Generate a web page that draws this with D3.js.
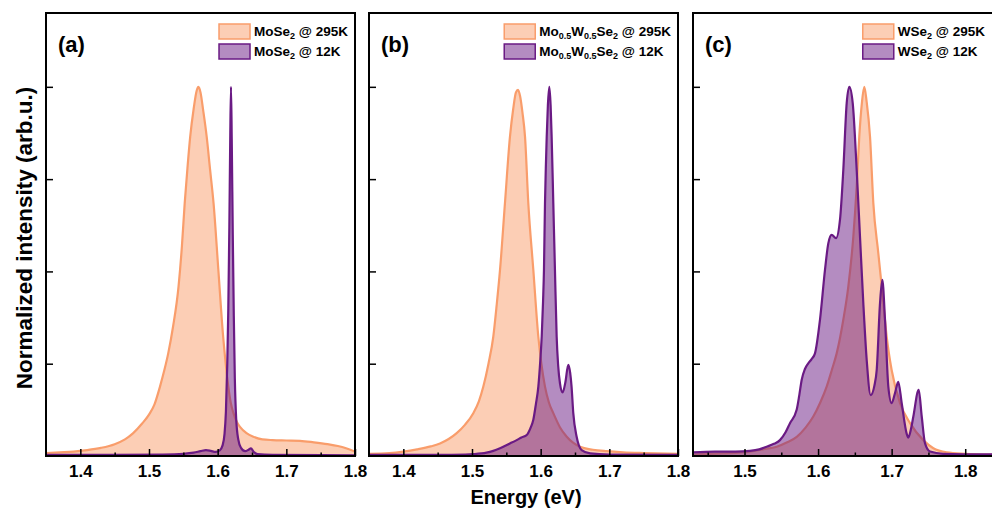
<!DOCTYPE html>
<html>
<head>
<meta charset="utf-8">
<script src="https://cdn.jsdelivr.net/npm/d3@7"></script>
<style>
  html, body { margin: 0; padding: 0; background: #fff; }
  svg { display: block; }
</style>
</head>
<body>
<svg id="chart" width="992" height="514"></svg>
<script>
// ---------------- DATA ----------------
const panelLabels = ["(a)", "(b)", "(c)"];
const energyDomains = [[1.35, 1.8], [1.35, 1.8], [1.43, 1.85]];
const majorTicks = [[1.4, 1.5, 1.6, 1.7, 1.8], [1.4, 1.5, 1.6, 1.7, 1.8], [1.5, 1.6, 1.7, 1.8]];
const minorTicks = [[1.45, 1.55, 1.65, 1.75], [1.45, 1.55, 1.65, 1.75], [1.45, 1.55, 1.65, 1.75]];
const yTicks = [0.25, 0.5, 0.75, 1.0];

// legend labels as [text, isSubscript] segments
const legendRoom = [
  [["MoSe", 0], ["2", 1], [" @ 295K", 0]],
  [["Mo", 0], ["0.5", 1], ["W", 0], ["0.5", 1], ["Se", 0], ["2", 1], [" @ 295K", 0]],
  [["WSe", 0], ["2", 1], [" @ 295K", 0]]
];
const legendCold = [
  [["MoSe", 0], ["2", 1], [" @ 12K", 0]],
  [["Mo", 0], ["0.5", 1], ["W", 0], ["0.5", 1], ["Se", 0], ["2", 1], [" @ 12K", 0]],
  [["WSe", 0], ["2", 1], [" @ 12K", 0]]
];

// (a) MoSe2 295K  [energy eV, normalized intensity]
const mose2_295K = [[1.35,0.008],[1.37,0.010],[1.39,0.012],[1.41,0.016],[1.43,0.022],[1.45,0.032],[1.465,0.045],[1.477,0.062],[1.49,0.088],[1.50,0.112],[1.508,0.14],[1.516,0.188],[1.522,0.23],[1.528,0.278],[1.535,0.35],[1.543,0.459],[1.548,0.57],[1.552,0.685],[1.556,0.78],[1.560,0.865],[1.565,0.94],[1.5695,0.99],[1.572,1.0],[1.575,0.985],[1.579,0.935],[1.584,0.865],[1.589,0.775],[1.594,0.685],[1.601,0.504],[1.608,0.323],[1.612,0.245],[1.6155,0.188],[1.619,0.145],[1.623,0.116],[1.628,0.092],[1.6325,0.079],[1.642,0.062],[1.652,0.052],[1.665,0.045],[1.68,0.043],[1.70,0.042],[1.72,0.041],[1.74,0.037],[1.76,0.032],[1.775,0.027],[1.787,0.021],[1.80,0.012]];
// (a) MoSe2 12K
const mose2_12K = [[1.35,0.003],[1.45,0.003],[1.52,0.004],[1.55,0.006],[1.565,0.009],[1.575,0.013],[1.583,0.016],[1.59,0.014],[1.597,0.011],[1.603,0.015],[1.607,0.028],[1.610,0.06],[1.612,0.12],[1.614,0.25],[1.6155,0.4],[1.617,0.62],[1.6183,0.86],[1.6194,1.0],[1.6205,0.86],[1.622,0.6],[1.6235,0.38],[1.625,0.21],[1.627,0.1],[1.630,0.045],[1.634,0.022],[1.640,0.013],[1.645,0.017],[1.6485,0.021],[1.652,0.012],[1.658,0.005],[1.68,0.003],[1.80,0.002]];
// (b) Mo0.5W0.5Se2 295K
const alloy_295K = [[1.35,0.006],[1.38,0.008],[1.40,0.012],[1.42,0.018],[1.44,0.026],[1.4534,0.034],[1.466,0.046],[1.4777,0.062],[1.49,0.085],[1.5019,0.116],[1.51,0.148],[1.5165,0.188],[1.524,0.25],[1.531,0.323],[1.536,0.41],[1.5408,0.504],[1.548,0.685],[1.5553,0.865],[1.560,0.94],[1.564,0.985],[1.567,0.992],[1.570,0.975],[1.5735,0.93],[1.5772,0.865],[1.582,0.685],[1.5893,0.504],[1.5966,0.323],[1.601,0.25],[1.6063,0.188],[1.612,0.145],[1.6184,0.116],[1.628,0.078],[1.638,0.052],[1.6573,0.025],[1.676,0.017],[1.696,0.013],[1.72,0.01],[1.75,0.008],[1.80,0.006]];
// (b) Mo0.5W0.5Se2 12K
const alloy_12K = [[1.35,0.003],[1.45,0.003],[1.49,0.004],[1.502,0.005],[1.521,0.009],[1.531,0.014],[1.5408,0.021],[1.5553,0.034],[1.565,0.043],[1.572,0.05],[1.5797,0.057],[1.585,0.075],[1.5893,0.098],[1.593,0.14],[1.5966,0.188],[1.5995,0.26],[1.6015,0.323],[1.6035,0.42],[1.6048,0.504],[1.6063,0.685],[1.6075,0.78],[1.6088,0.865],[1.6105,0.95],[1.6126,1.0],[1.6145,0.95],[1.616,0.865],[1.6184,0.685],[1.6208,0.504],[1.6233,0.323],[1.6255,0.245],[1.6281,0.197],[1.632,0.172],[1.636,0.2],[1.6402,0.247],[1.643,0.225],[1.645,0.188],[1.6475,0.116],[1.6524,0.052],[1.6597,0.016],[1.672,0.007],[1.70,0.004],[1.80,0.003]];
// (c) WSe2 295K
const wse2_295K = [[1.43,0.004],[1.47,0.007],[1.5075,0.012],[1.525,0.018],[1.5438,0.025],[1.558,0.037],[1.571,0.052],[1.583,0.077],[1.5935,0.107],[1.603,0.145],[1.6117,0.188],[1.619,0.235],[1.6253,0.278],[1.6343,0.369],[1.6411,0.459],[1.6479,0.594],[1.6525,0.73],[1.656,0.865],[1.6595,0.955],[1.6628,1.0],[1.666,0.96],[1.6706,0.865],[1.6751,0.685],[1.6819,0.549],[1.688,0.43],[1.6933,0.323],[1.70,0.233],[1.7114,0.143],[1.725,0.089],[1.743,0.043],[1.7567,0.021],[1.775,0.01],[1.80,0.006],[1.85,0.003]];
// (c) WSe2 12K
const wse2_12K = [[1.43,0.01],[1.46,0.012],[1.4875,0.012],[1.5075,0.014],[1.52,0.018],[1.53,0.025],[1.54,0.033],[1.5482,0.043],[1.556,0.065],[1.5618,0.089],[1.5709,0.125],[1.5745,0.165],[1.5777,0.206],[1.582,0.235],[1.5867,0.251],[1.591,0.262],[1.5958,0.278],[1.6026,0.369],[1.6094,0.504],[1.6139,0.576],[1.6185,0.599],[1.6244,0.59],[1.6298,0.64],[1.6343,0.775],[1.6389,0.956],[1.6425,1.0],[1.6471,0.956],[1.6525,0.775],[1.657,0.594],[1.6615,0.414],[1.6661,0.26],[1.6715,0.165],[1.6765,0.19],[1.6797,0.233],[1.6842,0.414],[1.6873,0.477],[1.691,0.369],[1.6955,0.188],[1.70,0.143],[1.7045,0.17],[1.709,0.201],[1.7137,0.143],[1.7205,0.06],[1.7227,0.05],[1.7265,0.075],[1.7295,0.107],[1.7368,0.179],[1.7409,0.107],[1.7454,0.034],[1.7522,0.012],[1.77,0.006],[1.85,0.004]];

const roomSeries = [mose2_295K, alloy_295K, wse2_295K];
const coldSeries = [mose2_12K, alloy_12K, wse2_12K];

// ---------------- STYLE / LAYOUT ----------------
const ORANGE = "#F99D6B";
const PURPLE = "#6A1A84";
const FONT = "'Liberation Sans', Arial, Helvetica, sans-serif";
const panelLeft = [46, 369, 693];
const panelW = 309, plotTop = 13, plotBottom = 456;

const svg = d3.select("#chart").style("font-family", FONT);

panelLabels.forEach((lab, i) => {
  const L = panelLeft[i], R = L + panelW;
  const x = d3.scaleLinear().domain(energyDomains[i]).range([L, R]);
  const y = d3.scaleLinear().domain([0, 1.2]).range([plotBottom, plotTop]);
  const g = svg.append("g");

  const clipId = "clip" + i;
  svg.append("clipPath").attr("id", clipId)
    .append("rect").attr("x", L).attr("y", plotTop).attr("width", panelW).attr("height", plotBottom - plotTop);

  const area = d3.area().x(d => x(d[0])).y0(y(0)).y1(d => y(d[1])).curve(d3.curveMonotoneX);
  const line = d3.line().x(d => x(d[0])).y(d => y(d[1])).curve(d3.curveMonotoneX);

  const plot = g.append("g").attr("clip-path", `url(#${clipId})`);
  plot.append("path").datum(roomSeries[i]).attr("d", area)
    .attr("fill", ORANGE).attr("fill-opacity", 0.5);
  plot.append("path").datum(roomSeries[i]).attr("d", line)
    .attr("fill", "none").attr("stroke", ORANGE).attr("stroke-width", 2.2);
  plot.append("path").datum(coldSeries[i]).attr("d", area)
    .attr("fill", PURPLE).attr("fill-opacity", 0.5);
  plot.append("path").datum(coldSeries[i]).attr("d", line)
    .attr("fill", "none").attr("stroke", PURPLE).attr("stroke-width", 2.2);

  // x axis major ticks (inward) with labels
  const ax = g.append("g").attr("transform", `translate(0,${plotBottom})`)
    .call(d3.axisBottom(x).tickValues(majorTicks[i]).tickSize(-7).tickPadding(9).tickFormat(d3.format(".1f")));
  ax.select(".domain").remove();
  ax.selectAll("line").attr("stroke", "#000").attr("stroke-width", 1.5);
  ax.selectAll("text").attr("font-size", 17).attr("font-weight", "bold").attr("fill", "#000")
    .attr("font-family", FONT);
  // minor ticks
  const mx = g.append("g").attr("transform", `translate(0,${plotBottom})`)
    .call(d3.axisBottom(x).tickValues(minorTicks[i]).tickSize(-3.5).tickFormat(""));
  mx.select(".domain").remove();
  mx.selectAll("line").attr("stroke", "#000").attr("stroke-width", 1.5);

  // y axis ticks (inward, no labels)
  const ay = g.append("g").attr("transform", `translate(${L},0)`)
    .call(d3.axisLeft(y).tickValues(yTicks).tickSize(-7).tickFormat(""));
  ay.select(".domain").remove();
  ay.selectAll("line").attr("stroke", "#000").attr("stroke-width", 1.5);

  // frame
  g.append("rect").attr("x", L).attr("y", plotTop).attr("width", panelW).attr("height", plotBottom - plotTop)
    .attr("fill", "none").attr("stroke", "#000").attr("stroke-width", 2);

  // panel label
  g.append("text").attr("x", L + 12).attr("y", 52).text(lab)
    .attr("font-size", 22).attr("font-weight", "bold").attr("fill", "#000");

  // legend
  const legendItems = [[legendRoom[i], ORANGE], [legendCold[i], PURPLE]];
  const textRight = Math.min(R, 992) - 7;
  const texts = legendItems.map((it, k) => {
    const t = g.append("text").attr("y", 36 + k * 20).attr("font-size", 13.5)
      .attr("font-weight", "bold").attr("fill", "#000");
    let prevSub = false;
    it[0].forEach(seg => {
      const isSub = !!seg[1];
      const dy = isSub ? (prevSub ? 0 : 3) : (prevSub ? -3 : 0);
      const ts = t.append("tspan").text(seg[0]).attr("dy", dy);
      if (isSub) ts.attr("font-size", 9);
      prevSub = isSub;
    });
    return t;
  });
  const maxW = d3.max(texts, t => t.node().getComputedTextLength());
  const textX = textRight - maxW;
  texts.forEach((t, k) => {
    t.attr("x", textX);
    g.append("rect").attr("x", textX - 35).attr("y", 24 + k * 20).attr("width", 31).attr("height", 15)
      .attr("fill", legendItems[k][1]).attr("fill-opacity", 0.5)
      .attr("stroke", legendItems[k][1]).attr("stroke-width", 1.5);
  });
});

// axis titles
svg.append("text").attr("transform", "translate(32,238) rotate(-90)").attr("text-anchor", "middle")
  .attr("font-size", 22.5).attr("font-weight", "bold").attr("fill", "#000").text("Normalized intensity (arb.u.)");
svg.append("text").attr("x", 526).attr("y", 504).attr("text-anchor", "middle")
  .attr("font-size", 20).attr("font-weight", "bold").attr("fill", "#000").text("Energy (eV)");
</script>
</body>
</html>
